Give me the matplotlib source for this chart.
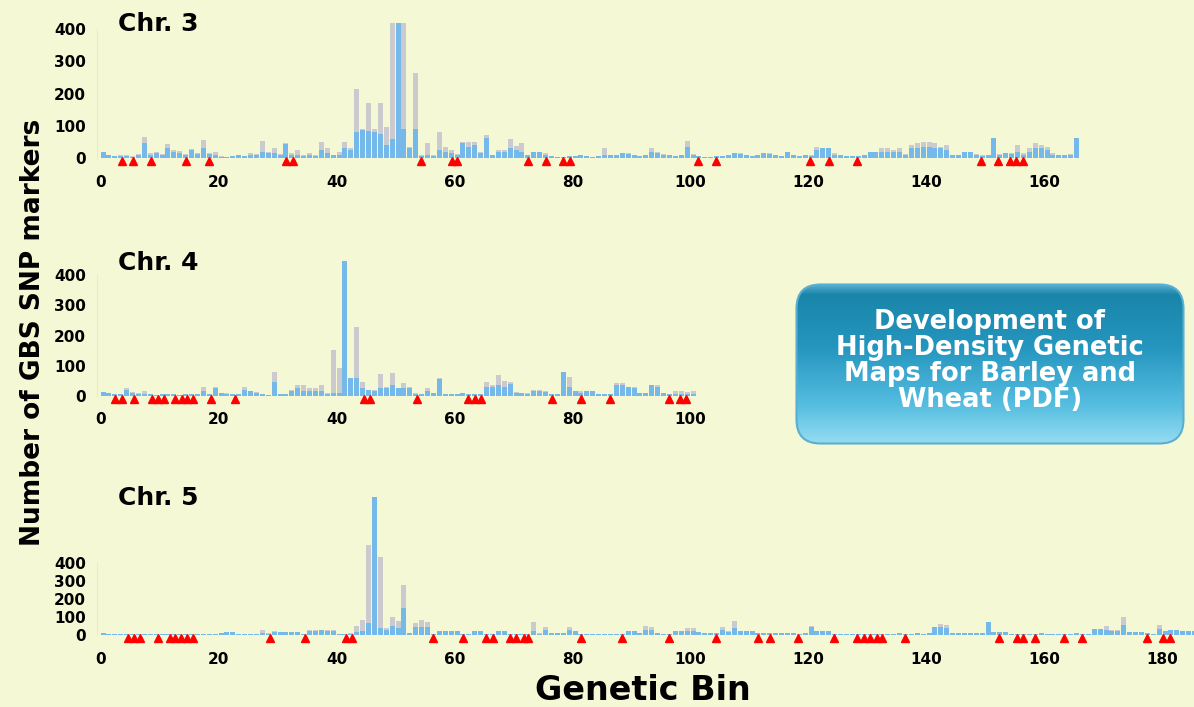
import numpy as np
import matplotlib
matplotlib.use("Agg")
import matplotlib.pyplot as plt
from matplotlib.patches import FancyBboxPatch
from matplotlib.colors import LinearSegmentedColormap

# ---- data (markers per genetic bin) ----
chr3_grey = [
    20, 8, 5, 10, 8, 5, 12, 65, 15, 18,
    12, 42, 25, 22, 12, 28, 15, 55, 15, 18,
    5, 4, 6, 8, 5, 15, 12, 52, 20, 30,
    12, 46, 15, 25, 8, 15, 10, 50, 30, 10,
    20, 50, 30, 214, 90, 170, 90, 170, 95, 420,
    420, 420, 35, 265, 8, 46, 8, 80, 35, 25,
    12, 50, 50, 50, 20, 72, 10, 25, 25, 60,
    36, 45, 10, 20, 20, 15, 5, 4, 3, 5,
    6, 10, 5, 4, 6, 30, 8, 10, 15, 15,
    8, 6, 8, 30, 20, 12, 8, 6, 10, 52,
    12, 5, 4, 3, 5, 6, 8, 15, 15, 8,
    6, 8, 15, 15, 8, 6, 20, 8, 5, 10,
    8, 35, 30, 30, 15, 8, 6, 5, 6, 8,
    20, 18, 30, 30, 25, 30, 12, 40, 45, 50,
    50, 45, 35, 40, 10, 10, 20, 20, 12, 8,
    10, 63, 12, 15, 15, 40, 15, 30, 45, 40,
    35, 15, 10, 10, 12, 63]
chr3_blue = [
    20, 8, 5, 6, 5, 3, 10, 45, 10, 15,
    10, 30, 20, 15, 10, 25, 12, 30, 12, 8,
    3, 3, 5, 8, 5, 8, 8, 20, 15, 15,
    10, 42, 10, 10, 5, 8, 5, 25, 15, 8,
    10, 30, 25, 80, 88, 85, 80, 75, 40, 60,
    420, 90, 30, 90, 5, 10, 5, 25, 20, 15,
    8, 45, 35, 40, 15, 62, 8, 20, 20, 30,
    25, 20, 8, 20, 20, 10, 5, 4, 3, 5,
    6, 10, 5, 4, 6, 10, 8, 10, 15, 12,
    8, 6, 8, 20, 15, 10, 8, 6, 8, 35,
    10, 5, 4, 3, 5, 6, 8, 15, 12, 8,
    6, 8, 15, 12, 8, 6, 20, 8, 5, 10,
    5, 25, 30, 30, 10, 8, 6, 5, 6, 8,
    20, 18, 20, 20, 20, 20, 10, 30, 30, 35,
    35, 30, 30, 25, 8, 8, 20, 20, 10, 6,
    8, 63, 10, 15, 12, 20, 10, 20, 30, 30,
    25, 10, 10, 8, 10, 63]
chr3_tri = [3.6, 5.5, 8.6, 14.5, 18.4, 31.5, 32.6, 54.4, 59.5, 60.5, 72.5,
            75.5, 78.4, 79.5, 101.3, 104.4, 120.3, 123.4, 128.3, 149.2,
            152.2, 154.2, 155.2, 156.3]

chr4_grey = [
    12, 10, 5, 5, 25, 12, 10, 15, 5, 4,
    5, 6, 5, 4, 5, 5, 8, 30, 8, 30,
    10, 10, 6, 8, 30, 15, 12, 5, 4, 80,
    5, 8, 20, 35, 36, 25, 25, 36, 10, 152,
    92, 447, 60, 229, 45, 20, 20, 73, 30, 77,
    25, 42, 30, 10, 5, 25, 10, 60, 8, 6,
    8, 10, 5, 5, 5, 45, 35, 68, 50, 45,
    12, 10, 10, 20, 20, 15, 5, 8, 80, 62,
    15, 15, 15, 15, 8, 5, 5, 42, 42, 30,
    30, 10, 10, 35, 35, 10, 8, 15, 15, 12,
    15]
chr4_blue = [
    12, 10, 5, 5, 20, 10, 8, 8, 5, 4,
    5, 5, 5, 4, 5, 5, 8, 15, 8, 25,
    10, 8, 6, 8, 20, 15, 10, 5, 4, 47,
    5, 5, 15, 25, 15, 15, 15, 15, 8, 10,
    10, 447, 58, 58, 25, 20, 15, 25, 25, 35,
    25, 25, 25, 8, 5, 15, 10, 55, 8, 6,
    8, 10, 5, 5, 5, 30, 30, 35, 30, 40,
    10, 10, 8, 15, 15, 12, 5, 5, 80, 30,
    15, 10, 15, 15, 8, 5, 5, 35, 35, 30,
    25, 10, 10, 35, 30, 10, 8, 5, 5, 5,
    8]
chr4_tri = [2.5, 3.6, 5.7, 8.7, 9.8, 10.8, 12.6, 13.8, 14.6, 15.6, 18.7,
            22.8, 44.6, 45.7, 53.7, 62.3, 63.5, 64.5, 76.5, 81.4, 86.4,
            96.4, 98.2, 99.2]

chr5_grey = [
    13, 8, 5, 5, 5, 4, 4, 5, 5, 4,
    5, 4, 4, 4, 5, 4, 4, 3, 3, 3,
    12, 19, 15, 5, 5, 5, 5, 28, 10, 22,
    19, 19, 19, 19, 8, 28, 28, 30, 28, 28,
    5, 5, 10, 50, 84, 503, 773, 437, 40, 102,
    78, 279, 10, 65, 84, 75, 8, 20, 20, 20,
    20, 8, 8, 20, 20, 8, 8, 20, 20, 8,
    8, 8, 8, 74, 10, 45, 10, 10, 10, 45,
    20, 5, 5, 5, 5, 5, 5, 5, 5, 20,
    20, 10, 50, 45, 10, 8, 5, 20, 20, 37,
    37, 15, 10, 10, 10, 45, 20, 80, 20, 20,
    20, 12, 12, 12, 12, 12, 12, 12, 8, 10,
    50, 20, 20, 20, 8, 6, 5, 6, 5, 5,
    5, 5, 5, 6, 8, 10, 6, 8, 10, 8,
    10, 46, 60, 55, 10, 10, 10, 10, 10, 10,
    74, 15, 15, 15, 8, 6, 5, 6, 8, 10,
    8, 6, 8, 5, 8, 10, 5, 8, 35, 35,
    50, 30, 30, 99, 15, 15, 15, 10, 8, 56,
    20, 30, 30, 20, 25, 20, 20]
chr5_blue = [
    13, 8, 5, 5, 5, 4, 4, 5, 5, 4,
    5, 4, 4, 4, 5, 4, 4, 3, 3, 3,
    12, 19, 15, 5, 5, 5, 5, 10, 8, 19,
    19, 19, 19, 19, 8, 25, 25, 28, 25, 25,
    5, 5, 5, 15, 20, 67, 773, 40, 30, 50,
    40, 149, 10, 45, 45, 45, 8, 20, 20, 20,
    20, 8, 8, 20, 20, 8, 8, 20, 20, 8,
    8, 8, 8, 20, 8, 30, 10, 10, 10, 30,
    20, 5, 5, 5, 5, 5, 5, 5, 5, 20,
    20, 10, 28, 28, 10, 8, 5, 20, 20, 20,
    20, 15, 10, 10, 10, 30, 15, 40, 20, 20,
    20, 12, 12, 12, 12, 12, 12, 12, 8, 10,
    46, 20, 20, 20, 8, 6, 5, 6, 5, 5,
    5, 5, 5, 6, 8, 10, 6, 8, 10, 8,
    10, 46, 46, 40, 10, 10, 10, 10, 10, 10,
    74, 15, 15, 15, 8, 6, 5, 6, 8, 10,
    8, 6, 8, 5, 8, 10, 5, 8, 35, 35,
    30, 20, 25, 56, 15, 15, 15, 10, 8, 35,
    20, 30, 30, 20, 25, 20, 20]
chr5_tri = [4.7, 5.7, 6.7, 9.7, 11.7, 12.6, 13.6, 14.6, 15.6, 28.7, 34.7,
            41.6, 42.6, 56.4, 61.5, 65.3, 66.5, 69.4, 70.5, 71.7, 72.5,
            81.4, 88.4, 96.4, 104.4, 111.4, 113.4, 118.3, 124.3, 128.3,
            129.4, 130.5, 131.6, 132.4, 136.4, 152.3, 155.3, 156.3, 158.4,
            163.3, 166.3, 177.3, 180.1, 181.2]

panel_names = ["Chr. 3", "Chr. 4", "Chr. 5"]
box_lines = ["Development of", "High-Density Genetic",
             "Maps for Barley and", "Wheat (PDF)"]

# ---- style ----
BG = "#f4f8d4"
BLUE = "#74b9ea"
GREY = "#cacacf"
W, H = 1194, 707
FONT = "DejaVu Sans"

plt.rcParams["font.family"] = FONT
plt.rcParams["font.weight"] = "bold"

fig = plt.figure(figsize=(W / 100, H / 100), dpi=100)
fig.patch.set_facecolor(BG)

X0 = 100.5      # pixel column of bin 0
PPX = 5.9       # pixels per bin


def add_panel(grey, blue, tri, name, base_px, ppy, ylo, yhi, xmax, xticks, label_y):
    left = X0 - 0.6 * PPX
    right = min(X0 + xmax * PPX, W)
    top = base_px - yhi * ppy
    bottom = base_px - ylo * ppy
    ax = fig.add_axes([left / W, 1 - bottom / H, (right - left) / W, (bottom - top) / H])
    ax.set_facecolor("none")
    x = np.arange(len(grey))
    ax.bar(x, grey, width=0.85, align="edge", color=GREY, linewidth=0)
    ax.bar(x, blue, width=0.85, align="edge", color=BLUE, linewidth=0)
    ax.plot(tri, [-3.2 / ppy] * len(tri), linestyle="none", marker="^",
            markersize=5.8, color="#ff0000", clip_on=False)
    ax.set_xlim(-0.6, (right - X0) / PPX)
    ax.set_ylim(ylo, yhi)
    ax.set_xticks(xticks)
    ax.set_yticks([0, 100, 200, 300, 400])
    ax.tick_params(length=0, labelsize=11, pad=7)
    ax.tick_params(axis="y", pad=8)
    for lab in ax.get_xticklabels() + ax.get_yticklabels():
        lab.set_fontweight("bold")
    for s in ["top", "right", "bottom"]:
        ax.spines[s].set_visible(False)
    ax.spines["left"].set_color("#e6eadc")
    ax.spines["left"].set_bounds(0, 400)
    fig.text(118 / W, 1 - label_y / H, name, fontsize=18, fontweight="bold",
             ha="left", va="center")
    return ax


add_panel(chr3_grey, chr3_blue, chr3_tri, panel_names[0], 158, 0.3225, -22, 440, 168,
          range(0, 161, 20), 24)
add_panel(chr4_grey, chr4_blue, chr4_tri, panel_names[1], 396, 0.3025, -22, 470, 102,
          range(0, 101, 20), 263)
add_panel(chr5_grey, chr5_blue, chr5_tri, panel_names[2], 635, 0.179, -38, 800, 190,
          range(0, 181, 20), 498)

fig.text(33 / W, 1 - 332 / H, "Number of GBS SNP markers", rotation=90,
         fontsize=19, fontweight="bold", ha="center", va="center")
fig.text(643 / W, 1 - 691 / H, "Genetic Bin", fontsize=24, fontweight="bold",
         ha="center", va="center")

# ---- rounded gradient box ----
bx0, by0, bx1, by1 = 795, 283, 1185, 445
bw, bh = bx1 - bx0, by1 - by0
bax = fig.add_axes([bx0 / W, 1 - by1 / H, bw / W, bh / H])
bax.set_xlim(0, bw)
bax.set_ylim(0, bh)
bax.axis("off")
cmap = LinearSegmentedColormap.from_list(
    "box", [(0, "#5cb6d6"), (0.07, "#1a85a9"), (0.4, "#2596bf"),
            (0.75, "#55bde0"), (1, "#98ddf2")])
grad = np.linspace(0, 1, 256).reshape(-1, 1)
im = bax.imshow(grad, extent=[0, bw, 0, bh], aspect="auto", cmap=cmap, origin="upper")
patch = FancyBboxPatch((1.5, 1.5), bw - 3, bh - 3,
                       boxstyle="round,pad=0,rounding_size=24",
                       fc="none", ec="#5aaecf", lw=1.5)
bax.add_patch(patch)
im.set_clip_path(patch)

line_y = [322, 348, 374, 400]
for txt, ly in zip(box_lines, line_y):
    fig.text(990 / W, 1 - ly / H, txt, color="white", fontsize=18.5,
             fontweight="bold", ha="center", va="center")

fig.savefig("out.png", dpi=100, facecolor=BG)
